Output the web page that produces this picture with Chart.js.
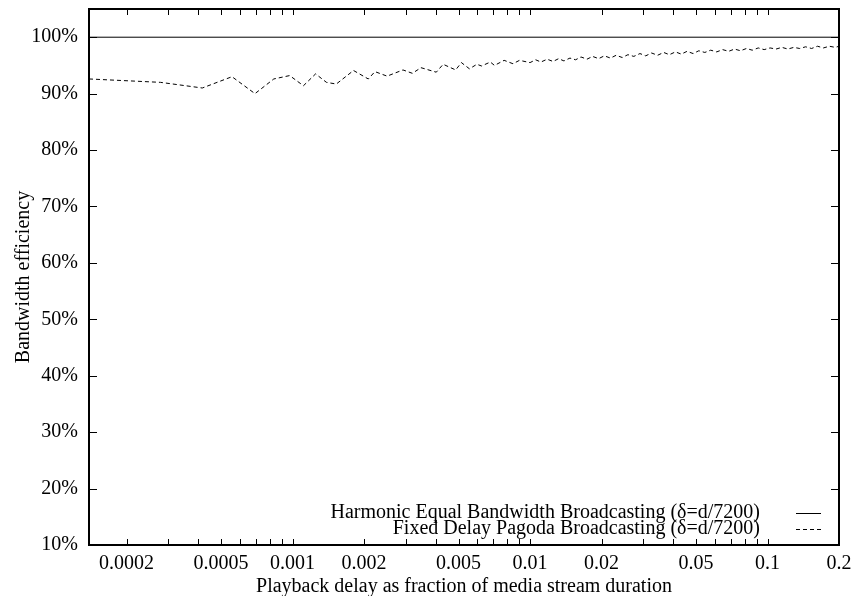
<!DOCTYPE html>
<html>
<head>
<meta charset="utf-8">
<script src="https://cdn.jsdelivr.net/npm/chart.js@4.4.0/dist/chart.umd.min.js"></script>
<style>
  html, body { margin: 0; padding: 0; background: #fff; }
</style>
</head>
<body>
<canvas id="effChart" width="853" height="596"></canvas>
<script>
// slot delay k means a playback delay of k * δ, with δ = d/7200
const SLOTS_PER_STREAM = 7200;

const seriesNames = [
  'Harmonic Equal Bandwidth Broadcasting (δ=d/7200)',
  'Fixed Delay Pagoda Broadcasting (δ=d/7200)'
];

const harmonicSlots = [1, 1440];
const harmonicEff = [100, 100];

const pagodaSlots = [
  1, 2, 3, 4, 5, 6, 7, 8, 9, 10, 11, 13, 15, 16, 18, 21, 23, 25, 29, 31,
  35, 37, 40, 43, 45, 49, 51, 56, 61, 65, 72, 76, 80, 85, 90, 95, 100, 106,
  112, 118, 125, 132, 140, 148, 157, 166, 176, 186, 197, 209, 221, 234, 248,
  263, 278, 295, 312, 330, 350, 370, 392, 415, 440, 466, 494, 523, 554, 587,
  621, 658, 697, 738, 782, 828, 877, 929, 984, 1042, 1104, 1169, 1238, 1311,
  1389, 1440
];
const pagodaEff = [
  92.6, 92.0, 91.0, 93.0, 90.0, 92.6, 93.2, 91.4, 93.5, 92.0, 91.7, 94.1, 92.6, 93.9, 93.1, 94.2, 93.6, 94.6, 93.8, 95.2,
  94.2, 95.5, 94.4, 95.2, 94.9, 95.6, 95.0, 95.9, 95.3, 95.9, 95.5, 96.0, 95.6, 96.1, 95.7, 96.2, 95.8, 96.3,
  96.0, 96.5, 96.1, 96.6, 96.2, 96.7, 96.3, 96.8, 96.4, 96.9, 96.6, 97.1, 96.7, 97.2, 96.8,
  97.3, 96.9, 97.4, 97.0, 97.5, 97.1, 97.6, 97.3, 97.7, 97.4, 97.8, 97.5, 97.9, 97.6, 98.0,
  97.7, 98.1, 97.8, 98.1, 97.9, 98.2, 97.9, 98.2, 98.0, 98.3, 98.0, 98.4, 98.1, 98.4,
  98.2, 98.4
];

const xTickValues = [
  0.0002, 0.0003, 0.0004, 0.0005, 0.0006, 0.0007, 0.0008, 0.0009,
  0.001, 0.002, 0.003, 0.004, 0.005, 0.006, 0.007, 0.008, 0.009,
  0.01, 0.02, 0.03, 0.04, 0.05, 0.06, 0.07, 0.08, 0.09,
  0.1, 0.2
];
const xTickLabels = ['0.0002', '0.0005', '0.001', '0.002', '0.005', '0.01', '0.02', '0.05', '0.1', '0.2'];
const yTickValues = [10, 20, 30, 40, 50, 60, 70, 80, 90, 100];

const FONT = "'Liberation Serif', 'Times New Roman', serif";
Chart.defaults.font.family = FONT;
Chart.defaults.font.size = 20;
Chart.defaults.color = '#000';

function toPoints(slots, eff) {
  return slots.map((k, i) => ({ x: k / SLOTS_PER_STREAM, y: eff[i] }));
}

// gnuplot style frame, inward ticks and key inside the plot
const framePlugin = {
  id: 'frame',
  afterDatasetsDraw(chart) {
    const { ctx, chartArea: a, scales: { x, y } } = chart;
    ctx.save();
    ctx.strokeStyle = '#000';
    ctx.lineWidth = 1;
    ctx.beginPath();
    xTickValues.forEach(v => {
      const px = Math.round(x.getPixelForValue(v)) + 0.5;
      ctx.moveTo(px, a.bottom);
      ctx.lineTo(px, a.bottom - 6);
      ctx.moveTo(px, a.top);
      ctx.lineTo(px, a.top + 6);
    });
    yTickValues.forEach(v => {
      const py = Math.round(y.getPixelForValue(v)) + 0.5;
      ctx.moveTo(a.left, py);
      ctx.lineTo(a.left + 8, py);
      ctx.moveTo(a.right, py);
      ctx.lineTo(a.right - 8, py);
    });
    ctx.stroke();

    ctx.lineWidth = 2;
    ctx.strokeRect(a.left, a.top, a.right - a.left, a.bottom - a.top);

    // key
    ctx.font = '20px ' + FONT;
    ctx.fillStyle = '#000';
    ctx.textAlign = 'right';
    ctx.textBaseline = 'middle';
    const rows = [513, 529];
    chart.data.datasets.forEach((ds, i) => {
      ctx.fillText(ds.label, 760, rows[i]);
      ctx.lineWidth = 1;
      ctx.setLineDash(ds.borderDash || []);
      ctx.beginPath();
      ctx.moveTo(796, rows[i] + 0.5);
      ctx.lineTo(821, rows[i] + 0.5);
      ctx.stroke();
    });
    ctx.restore();
  }
};

new Chart(document.getElementById('effChart'), {
  type: 'line',
  data: {
    datasets: [
      {
        label: seriesNames[0],
        data: toPoints(harmonicSlots, harmonicEff),
        borderColor: '#000',
        borderWidth: 1,
        pointRadius: 0,
        tension: 0
      },
      {
        label: seriesNames[1],
        data: toPoints(pagodaSlots, pagodaEff),
        borderColor: '#000',
        borderWidth: 1,
        borderDash: [4, 3],
        pointRadius: 0,
        tension: 0
      }
    ]
  },
  options: {
    responsive: false,
    animation: false,
    layout: { padding: { left: 0, right: 14, top: 9, bottom: 0 } },
    plugins: {
      legend: { display: false },
      tooltip: { enabled: false }
    },
    scales: {
      x: {
        type: 'logarithmic',
        min: 1 / SLOTS_PER_STREAM,
        max: 0.2,
        grid: { display: false, drawTicks: false },
        border: { display: false },
        afterBuildTicks: s => { s.ticks = xTickValues.map(v => ({ value: v })); },
        afterFit: s => { s.height = 51; s.paddingLeft = 0; s.paddingRight = 0; },
        ticks: {
          autoSkip: false,
          maxRotation: 0,
          padding: 7,
          callback: v => (xTickLabels.includes(String(v)) ? String(v) : '')
        },
        title: {
          display: true,
          text: 'Playback delay as fraction of media stream duration',
          padding: { top: 0, bottom: -3 }
        }
      },
      y: {
        type: 'linear',
        min: 10,
        max: 105,
        grid: { display: false, drawTicks: false },
        border: { display: false },
        afterBuildTicks: s => { s.ticks = yTickValues.map(v => ({ value: v })); },
        afterFit: s => { s.width = 89; s.paddingTop = 0; s.paddingBottom = 0; },
        ticks: {
          padding: 11,
          callback: v => v + '%'
        },
        title: {
          display: true,
          text: 'Bandwidth efficiency',
          padding: { top: 12, bottom: 0 }
        }
      }
    }
  },
  plugins: [framePlugin]
});
</script>
</body>
</html>
